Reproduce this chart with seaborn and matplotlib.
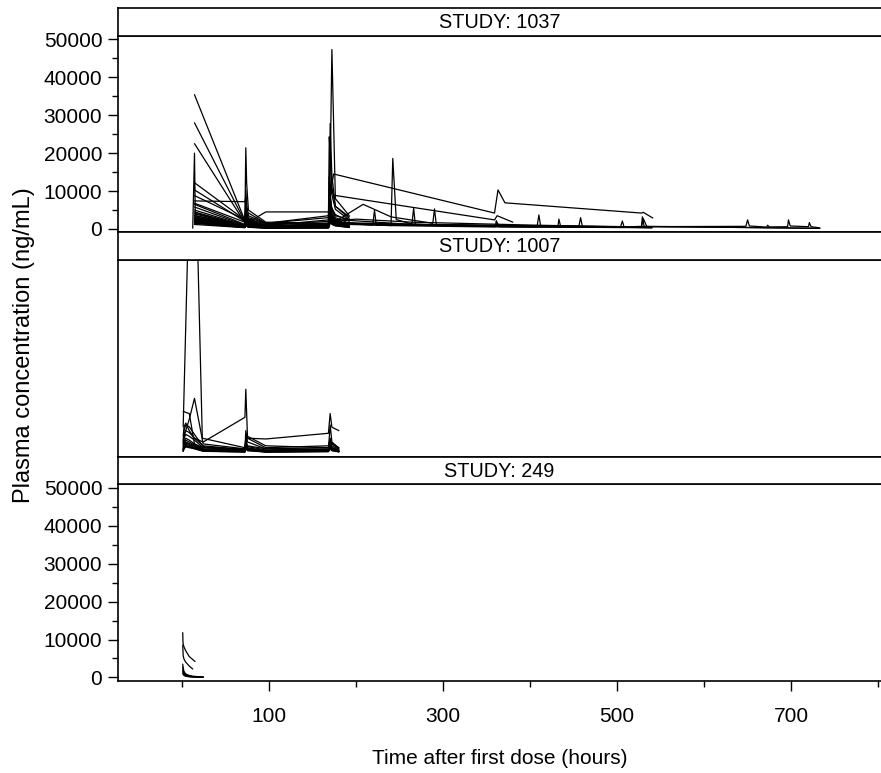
import matplotlib
matplotlib.use("Agg")
import matplotlib.pyplot as plt
import numpy as np
import pandas as pd
import seaborn as sns

# ---------------- data ----------------
STUDIES = ["1037", "1007", "249"]
X_MAJOR = [100, 300, 500, 700]
X_MINOR = [0, 200, 400, 600, 800]
Y_MAJOR = [0, 10000, 20000, 30000, 40000, 50000]
Y_MAJOR_LABELS = ["0", "10000", "20000", "30000", "40000", "50000"]
Y_MINOR = [5000, 15000, 25000, 35000, 45000]

# Study 1037 - common sampling grid
T1037 = [14, 72, 73, 74, 76, 96, 168, 169, 170, 172, 176, 192]
C1037_01 = [35400, 2200, 5500, 4000, 2600, 1300, 1400, 8000, 6500, 5500, 3800, 2000]
C1037_02 = [28000, 1900, 4200, 3200, 2200, 1100, 2000, 13800, 12000, 9000, 5200, 2400]
C1037_03 = [22500, 1600, 3500, 2600, 1800, 900, 2400, 24300, 20000, 11000, 6000, 3200]
C1037_04 = [12200, 2400, 21400, 12000, 5000, 1800, 1500, 3500, 15000, 47300, 8000, 3500]
C1037_05 = [10300, 2000, 10300, 6500, 3500, 1500, 1200, 4000, 27800, 14000, 6000, 2800]
C1037_06 = [7400, 7200, 8500, 3000, 1800, 4500, 4500, 6000, 9000, 5000, 3500, 2500]
C1037_07 = [6500, 1200, 5000, 3000, 1800, 800, 900, 2500, 9000, 5000, 3000, 1500]
C1037_08 = [5800, 1000, 3500, 2500, 1500, 700, 800, 2000, 7000, 4000, 2500, 1200]
C1037_09 = [5000, 900, 3000, 2000, 1200, 600, 700, 1800, 6000, 3500, 2200, 1100]
C1037_10 = [4500, 800, 2800, 1800, 1100, 500, 600, 1600, 5000, 3000, 2000, 1000]
C1037_11 = [4000, 700, 2500, 1600, 1000, 450, 550, 1500, 4500, 2800, 1800, 900]
C1037_12 = [3500, 650, 2200, 1400, 900, 400, 500, 1300, 4000, 2500, 1600, 800]
C1037_13 = [3000, 600, 2000, 1300, 800, 380, 450, 1200, 3500, 2200, 1400, 700]
C1037_14 = [2600, 550, 1800, 1200, 700, 350, 400, 1100, 3000, 2000, 1300, 650]
C1037_15 = [2200, 500, 1600, 1000, 650, 300, 380, 1000, 2700, 1800, 1200, 600]
C1037_16 = [1800, 450, 1400, 900, 600, 280, 350, 900, 2400, 1600, 1000, 500]
C1037_17 = [1500, 400, 1200, 800, 500, 250, 300, 800, 2000, 1400, 900, 450]
C1037_18 = [1200, 350, 1000, 700, 450, 220, 280, 700, 1800, 1200, 800, 400]

# Study 1037 - subjects followed longer
T1037_A = [14, 72, 73, 76, 96, 168, 170, 174, 359, 363, 371, 528, 530, 541]
C1037_A = [8800, 2500, 5000, 3000, 1500, 3000, 9000, 14500, 4200, 10300, 6900, 4200, 4400, 2900]
T1037_B = [14, 72, 74, 96, 168, 170, 174, 359, 362, 380]
C1037_B = [6800, 1800, 4500, 1500, 3500, 11000, 8900, 2400, 3500, 1800]
T1037_C = [14, 72, 73, 96, 168, 170, 176, 240, 242, 246, 264, 336, 360, 362, 364, 408]
C1037_C = [2800, 600, 2200, 500, 1100, 3500, 1800, 900, 18600, 2500, 1300, 900, 700, 1500, 600, 500]
T1037_D = [14, 72, 73, 96, 168, 170, 176, 264, 266, 268, 336, 504, 648, 650, 652, 672, 673,
           675, 696, 697, 699, 720, 721, 723, 733]
C1037_D = [4200, 900, 3000, 700, 1500, 5000, 2500, 1200, 5500, 1000, 900, 600, 700, 2400, 800,
           500, 1000, 550, 600, 2400, 800, 600, 1700, 600, 300]
T1037_E = [14, 72, 73, 96, 168, 170, 176, 208, 240, 288, 290, 292, 336, 432, 433, 435, 456,
           458, 460, 504, 506, 508, 540]
C1037_E = [3200, 700, 2500, 600, 1400, 4000, 2000, 6500, 3200, 1500, 5300, 1200, 1000, 800,
           2600, 700, 700, 3000, 650, 600, 2100, 500, 400]
T1037_F = [12, 14, 15, 72, 73, 76, 96, 168, 170, 176, 219, 221, 223, 336, 408, 410, 412, 420]
C1037_F = [200, 20000, 2500, 900, 3200, 1200, 600, 1200, 3800, 1800, 1000, 5000, 1000, 900,
           700, 3700, 800, 700]
T1037_G = [14, 72, 73, 96, 168, 170, 176, 336, 504, 528, 529, 531, 540, 648, 733]
C1037_G = [2000, 500, 1800, 400, 900, 3000, 1500, 800, 500, 700, 3200, 700, 600, 400, 200]
T1037_H = [14, 72, 73, 96, 168, 170, 176, 264, 336, 360, 361, 364, 432, 504, 540]
C1037_H = [2400, 600, 2000, 500, 1000, 3200, 1600, 1000, 700, 600, 2200, 700, 500, 400, 300]
T1037_I = [14, 72, 73, 96, 168, 170, 176, 240, 336, 408, 504, 528, 530, 534, 733]
C1037_I = [1600, 400, 1500, 350, 800, 2600, 1300, 900, 600, 500, 400, 500, 2800, 700, 150]
T1037_J = [14, 72, 73, 96, 168, 170, 176, 264, 336, 408, 432, 504, 540]
C1037_J = [1900, 500, 1600, 450, 900, 2800, 1500, 1200, 1000, 800, 700, 500, 350]
T1037_K = [14, 72, 73, 96, 168, 170, 176, 240, 288, 360, 456, 528, 536]
C1037_K = [2300, 550, 1900, 500, 1100, 3000, 1700, 1400, 1100, 900, 700, 600, 400]
T1037_L = [14, 72, 73, 96, 168, 170, 176, 200, 264, 336, 408, 480, 540]
C1037_L = [3600, 800, 2600, 650, 1300, 3800, 2200, 2600, 1800, 1400, 1000, 700, 500]

# Study 1007
T1007 = [1, 2, 4, 8, 14, 24, 72, 73, 75, 96, 168, 170, 172, 180]
C1007_01 = [3000, 4500, 6000, 9000, 14500, 2500, 1200, 3000, 1800, 900, 1200, 2500, 1500, 900]
C1007_02 = [2500, 5000, 6000, 5500, 4000, 3000, 9500, 16900, 4000, 1500, 2000, 4000, 2500, 1200]
C1007_03 = [2000, 4000, 5000, 4500, 3500, 1500, 1200, 4000, 4000, 3800, 5300, 10500, 6900, 6000]
C1007_04 = [11000, 11000, 10800, 10500, 2500, 1500, 800, 2000, 1200, 600, 700, 1800, 1000, 600]
C1007_05 = [1500, 3000, 4000, 3500, 2500, 1200, 800, 2500, 1500, 700, 900, 2500, 1500, 800]
C1007_06 = [1200, 2500, 3500, 3000, 2200, 1000, 700, 2200, 1300, 600, 800, 2200, 1300, 700]
C1007_07 = [1000, 2200, 3000, 2600, 2000, 900, 600, 2000, 1200, 550, 700, 2000, 1200, 600]
C1007_08 = [900, 2000, 2700, 2400, 1800, 800, 550, 1800, 1100, 500, 650, 1800, 1100, 550]
C1007_09 = [800, 1800, 2400, 2100, 1600, 700, 500, 1600, 1000, 450, 600, 1600, 1000, 500]
C1007_10 = [700, 1600, 2100, 1900, 1400, 650, 450, 1500, 900, 400, 550, 1500, 900, 450]
C1007_11 = [600, 1400, 1900, 1700, 1300, 600, 400, 1300, 800, 380, 500, 1300, 800, 420]
C1007_12 = [500, 1200, 1700, 1500, 1200, 550, 350, 1200, 700, 350, 450, 1200, 700, 400]
C1007_13 = [4500, 7000, 8000, 6000, 4000, 2000, 1000, 3000, 4500, 2000, 1500, 3500, 2000, 1000]
C1007_14 = [3500, 6000, 7500, 7000, 5000, 1800, 900, 6000, 3000, 1200, 1000, 7500, 3000, 1400]
T1007_S = [1, 8, 16, 23, 72, 73, 75, 96, 168, 170, 180]
C1007_S = [7000, 70000, 70000, 4000, 1500, 3500, 2000, 1200, 1500, 3000, 1500]

# Study 249
T249_01 = [0.5, 0.75, 1, 2, 4, 8, 14.6]
C249_01 = [11800, 9500, 8800, 8000, 7000, 5500, 4200]
T249_02 = [0.5, 1, 2, 4, 8, 12]
C249_02 = [8500, 5700, 4800, 4000, 3000, 2200]
T249 = [0.5, 1, 2, 4, 8, 12, 24]
C249_03 = [3500, 2500, 1500, 900, 500, 300, 100]
C249_04 = [2800, 2000, 1200, 700, 400, 250, 80]
C249_05 = [2000, 1500, 900, 500, 300, 180, 60]
C249_06 = [1500, 1100, 700, 400, 220, 130, 40]
C249_07 = [1000, 800, 500, 300, 160, 100, 30]

rows = []
def add(study, subj, t, c):
    for ti, ci in zip(t, c):
        rows.append({"study": study, "subject": f"{study}-{subj}", "time": ti, "conc": ci})

for i, c in enumerate([C1037_01, C1037_02, C1037_03, C1037_04, C1037_05, C1037_06,
                       C1037_07, C1037_08, C1037_09, C1037_10, C1037_11, C1037_12,
                       C1037_13, C1037_14, C1037_15, C1037_16, C1037_17, C1037_18]):
    add("1037", f"g{i}", T1037, c)
for nm, t, c in [("A", T1037_A, C1037_A), ("B", T1037_B, C1037_B), ("C", T1037_C, C1037_C),
                 ("D", T1037_D, C1037_D), ("E", T1037_E, C1037_E), ("F", T1037_F, C1037_F),
                 ("G", T1037_G, C1037_G), ("H", T1037_H, C1037_H), ("I", T1037_I, C1037_I),
                 ("J", T1037_J, C1037_J), ("K", T1037_K, C1037_K), ("L", T1037_L, C1037_L)]:
    add("1037", nm, t, c)
for i, c in enumerate([C1007_01, C1007_02, C1007_03, C1007_04, C1007_05, C1007_06, C1007_07,
                       C1007_08, C1007_09, C1007_10, C1007_11, C1007_12, C1007_13, C1007_14]):
    add("1007", f"g{i}", T1007, c)
add("1007", "S", T1007_S, C1007_S)
add("249", "01", T249_01, C249_01)
add("249", "02", T249_02, C249_02)
for i, c in enumerate([C249_03, C249_04, C249_05, C249_06, C249_07]):
    add("249", f"g{i}", T249, c)
df = pd.DataFrame(rows)

# ---------------- style ----------------
sns.set_style("ticks")
plt.rcParams["font.family"] = ["Liberation Sans", "DejaVu Sans"]
plt.rcParams["text.color"] = "black"
plt.rcParams["axes.labelcolor"] = "black"
plt.rcParams["xtick.color"] = "black"
plt.rcParams["ytick.color"] = "black"

W_PX, H_PX = 881, 773
fig = plt.figure(figsize=(W_PX / 100, H_PX / 100), dpi=100)

LEFT = 118.3
XLIM = (-73.6, 803.4)
YLIM = (-870, 50950)
panels = [(35.7, 232.3), (260.0, 456.7), (484.3, 680.7)]
strips = [(7.5, 35.7), (232.3, 260.0), (456.7, 484.3)]

def rect(top, bot):
    return [LEFT / W_PX, 1 - bot / H_PX, 1 - LEFT / W_PX, (bot - top) / H_PX]

def style_spines(ax):
    for side in ["left", "top", "bottom"]:
        ax.spines[side].set_visible(True)
        ax.spines[side].set_color("black")
        ax.spines[side].set_linewidth(1.2)
    ax.spines["right"].set_visible(False)

for k, study in enumerate(STUDIES):
    ax = fig.add_axes(rect(*panels[k]))
    sub = df[df["study"] == study]
    sns.lineplot(data=sub, x="time", y="conc", units="subject", estimator=None,
                 color="black", linewidth=0.9, legend=False, ax=ax)
    ax.set_xlim(*XLIM)
    ax.set_ylim(*YLIM)
    ax.set_xlabel("")
    ax.set_ylabel("")
    style_spines(ax)
    ax.set_xticks(X_MAJOR)
    ax.set_xticks(X_MINOR, minor=True)
    ax.set_yticks(Y_MAJOR)
    ax.set_yticks(Y_MINOR, minor=True)
    ax.set_yticklabels(Y_MAJOR_LABELS)
    ax.set_xticklabels([str(v) for v in X_MAJOR])
    ax.tick_params(axis="both", which="both", direction="out", left=True, bottom=True,
                   right=False, top=False, color="black", width=1)
    ax.tick_params(axis="both", which="major", length=7.2, labelsize=15, labelcolor="black")
    ax.tick_params(axis="both", which="minor", length=4.3)
    ax.tick_params(axis="y", which="major", pad=4.3)
    ax.tick_params(axis="x", which="major", pad=12)
    if k != 2:
        ax.tick_params(axis="x", which="both", bottom=False, labelbottom=False)
    if k == 1:
        ax.tick_params(axis="y", which="both", left=False, labelleft=False)
    ax.grid(False)

    sax = fig.add_axes(rect(*strips[k]))
    sax.set_xticks([])
    sax.set_yticks([])
    sax.set_facecolor("white")
    style_spines(sax)
    sax.text(0.5, 0.47, f"STUDY: {study}", ha="center", va="center",
             fontsize=14.3, color="black", transform=sax.transAxes)

fig.text((LEFT + W_PX) / 2 / W_PX, 1 - 764 / H_PX, "Time after first dose (hours)",
         ha="center", va="baseline", fontsize=15, color="black")
fig.text(24 / W_PX, 1 - 345 / H_PX, "Plasma concentration (ng/mL)",
         ha="center", va="center", rotation=90, fontsize=17, color="black")

fig.savefig("out.png", dpi=100)
